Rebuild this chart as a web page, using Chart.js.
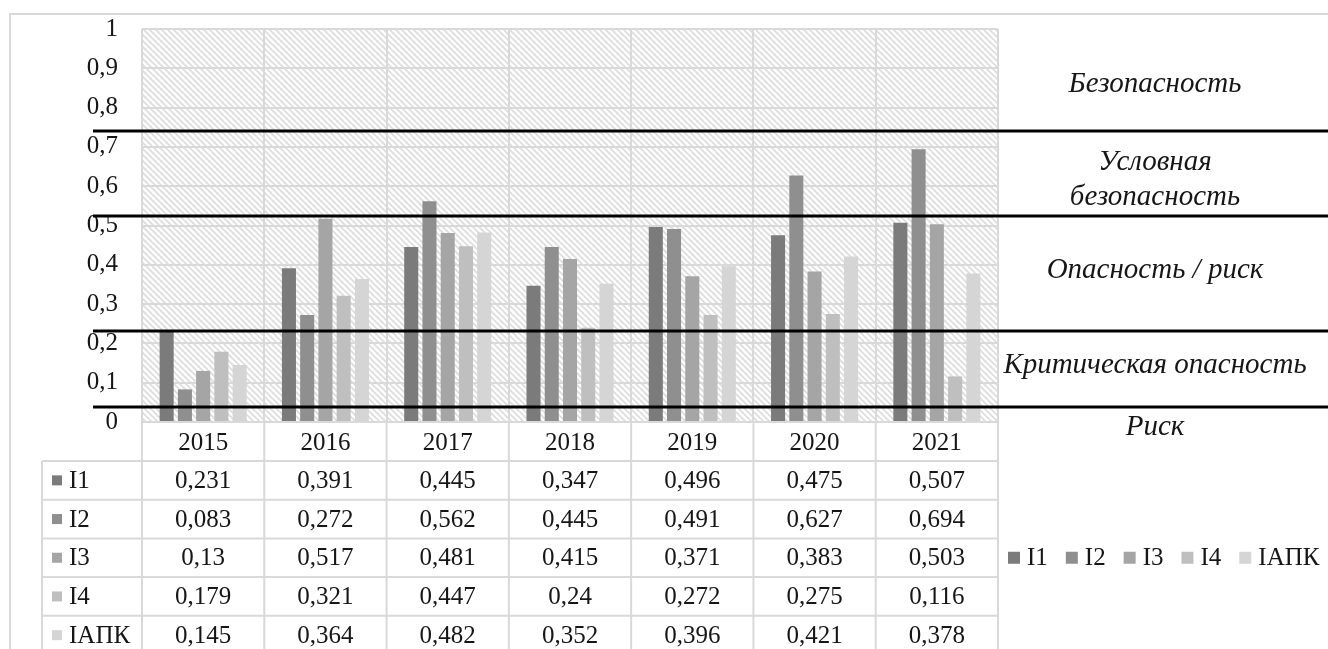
<!DOCTYPE html>
<html lang="ru">
<head>
<meta charset="utf-8">
<title>Индексы I1–I4 и IАПК, 2015–2021</title>
<script src="https://cdn.jsdelivr.net/npm/chart.js@4.4.1/dist/chart.umd.min.js"></script>
<style>
  html, body { margin: 0; padding: 0; background: #fff; }
  #wrap { width: 1328px; height: 649px; position: relative; }
</style>
</head>
<body>
<div id="wrap"><canvas id="chart"></canvas></div>
<script>
const years = ['2015', '2016', '2017', '2018', '2019', '2020', '2021'];
const seriesNames = ['I1', 'I2', 'I3', 'I4', 'IАПК'];
const i1 = [0.231, 0.391, 0.445, 0.347, 0.496, 0.475, 0.507];
const i2 = [0.083, 0.272, 0.562, 0.445, 0.491, 0.627, 0.694];
const i3 = [0.13, 0.517, 0.481, 0.415, 0.371, 0.383, 0.503];
const i4 = [0.179, 0.321, 0.447, 0.24, 0.272, 0.275, 0.116];
const iapk = [0.145, 0.364, 0.482, 0.352, 0.396, 0.421, 0.378];
const seriesColors = ['#7b7b7b', '#8f8f8f', '#a5a5a5', '#bfbfbf', '#d5d5d5'];

// zone boundaries and zone captions on the right
const thresholds = [0.74, 0.525, 0.232, 0.039];
const zones = [
  {lines: ['Безопасность'], at: [0.86]},
  {lines: ['Условная', 'безопасность'], at: [0.66, 0.572]},
  {lines: ['Опасность / риск'], at: [0.387]},
  {lines: ['Критическая опасность'], at: [0.145]},
  {lines: ['Риск'], at: [-0.013]},
];

const FONT = '"Liberation Serif", "Times New Roman", serif';
const TEXT = '#161616';
const GRID = '#d9d9d9';

const allSeries = [i1, i2, i3, i4, iapk];
const fmt = v => String(v).replace('.', ',');

function hatchPattern(ctx) {
  const c = document.createElement('canvas');
  c.width = 6; c.height = 6;
  const p = c.getContext('2d');
  p.strokeStyle = '#dcdcdc';
  p.lineWidth = 1.6;
  p.beginPath();
  p.moveTo(-1, -1); p.lineTo(7, 7);
  p.moveTo(-1, 5); p.lineTo(1, 7);
  p.moveTo(5, -1); p.lineTo(7, 1);
  p.stroke();
  return ctx.createPattern(c, 'repeat');
}

const decor = {
  id: 'decor',
  beforeDraw(chart) {
    const {ctx, chartArea: a, width, height} = chart;
    ctx.save();
    ctx.fillStyle = '#fff';
    ctx.fillRect(0, 0, width, height);
    // outer frame
    ctx.strokeStyle = GRID;
    ctx.lineWidth = 2;
    ctx.beginPath();
    ctx.moveTo(width, 14); ctx.lineTo(10, 14); ctx.lineTo(10, height);
    ctx.stroke();
    ctx.fillStyle = hatchPattern(ctx);
    ctx.fillRect(a.left, a.top, a.right - a.left, a.bottom - a.top);
    ctx.restore();
  },
  afterDatasetsDraw(chart) {
    const {ctx, chartArea: a, width, height, scales} = chart;
    const y = scales.y, x = scales.x;
    ctx.save();

    // threshold lines
    ctx.strokeStyle = '#000';
    ctx.lineWidth = 3;
    thresholds.forEach(t => {
      const py = Math.round(y.getPixelForValue(t));
      ctx.beginPath();
      ctx.moveTo(a.left - 49, py);
      ctx.lineTo(width, py);
      ctx.stroke();
    });

    // zone captions
    ctx.fillStyle = TEXT;
    ctx.font = 'italic 29px ' + FONT;
    ctx.textAlign = 'center';
    ctx.textBaseline = 'middle';
    const cx = (a.right + width) / 2 - 8;
    zones.forEach(z => {
      z.lines.forEach((s, k) => ctx.fillText(s, cx, y.getPixelForValue(z.at[k])));
    });

    // data table under the plot
    const n = years.length;
    const colW = (a.right - a.left) / n;
    const headH = 39, rowH = 38.7;
    const tableLeft = 42;
    const top = a.bottom;
    const bodyTop = top + headH;
    ctx.strokeStyle = GRID;
    ctx.lineWidth = 2;
    ctx.beginPath();
    for (let i = 0; i <= n; i++) {
      const px = a.left + i * colW;
      ctx.moveTo(px, top); ctx.lineTo(px, height);
    }
    ctx.moveTo(tableLeft, bodyTop); ctx.lineTo(tableLeft, height);
    for (let r = 0; r <= allSeries.length; r++) {
      const py = bodyTop + r * rowH;
      ctx.moveTo(tableLeft, py); ctx.lineTo(a.right, py);
    }
    ctx.stroke();

    ctx.font = '25px ' + FONT;
    ctx.textBaseline = 'middle';
    allSeries.forEach((vals, r) => {
      const cy = bodyTop + r * rowH + rowH / 2;
      ctx.fillStyle = seriesColors[r];
      ctx.fillRect(52, cy - 5, 10, 10);
      ctx.fillStyle = TEXT;
      ctx.textAlign = 'left';
      ctx.fillText(seriesNames[r], 69, cy + 1);
      ctx.textAlign = 'center';
      vals.forEach((v, i) => ctx.fillText(fmt(v), x.getPixelForValue(i), cy + 1));
    });

    // legend on the right
    let lx = a.right + 10;
    const ly = bodyTop + 2 * rowH + rowH / 2;
    ctx.textAlign = 'left';
    seriesNames.forEach((s, k) => {
      ctx.fillStyle = seriesColors[k];
      ctx.fillRect(lx, ly - 6, 12, 12);
      ctx.fillStyle = TEXT;
      ctx.fillText(s, lx + 19, ly + 1);
      lx += 19 + ctx.measureText(s).width + 18;
    });
    ctx.restore();
  }
};

new Chart(document.getElementById('chart'), {
  type: 'bar',
  data: {
    labels: years,
    datasets: seriesNames.map((name, k) => ({
      label: name,
      data: allSeries[k],
      backgroundColor: seriesColors[k],
      borderWidth: 0,
      categoryPercentage: 0.746,
      barPercentage: 0.77,
    })),
  },
  options: {
    responsive: true,
    maintainAspectRatio: false,
    animation: false,
    layout: {padding: {top: 29, right: 330, left: 0, bottom: 0}},
    plugins: {
      legend: {display: false},
      tooltip: {enabled: false},
    },
    scales: {
      x: {
        grid: {color: GRID, lineWidth: 2, drawTicks: false},
        border: {display: false},
        ticks: {color: TEXT, font: {family: FONT, size: 25}, padding: 6},
        afterFit: s => { s.height = 227; s.paddingLeft = 0; s.paddingRight = 0; },
      },
      y: {
        min: 0,
        max: 1,
        grid: {color: GRID, lineWidth: 2, drawTicks: false},
        border: {display: false},
        ticks: {
          stepSize: 0.1,
          color: TEXT,
          font: {family: FONT, size: 25},
          padding: 24,
          callback: v => fmt(Math.round(v * 10) / 10),
        },
        afterFit: s => { s.width = 142; s.paddingTop = 0; s.paddingBottom = 0; },
      },
    },
  },
  plugins: [decor],
});
</script>
</body>
</html>
